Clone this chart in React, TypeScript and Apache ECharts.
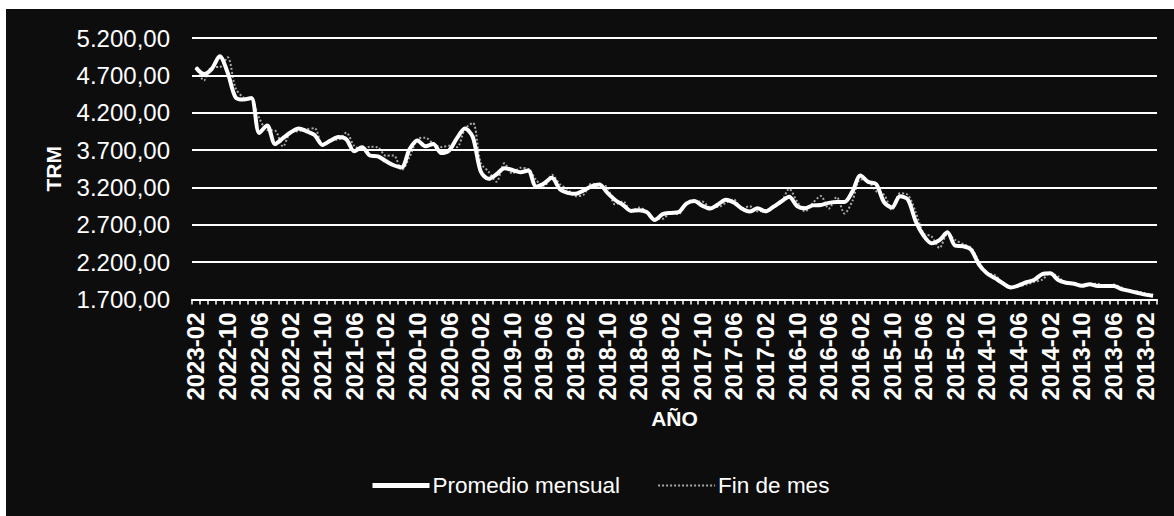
import React, { useEffect, useRef } from "react";
import * as echarts from "echarts";

// Monthly categories, newest first (2023-02 … 2013-01)
const CATEGORIES: string[] = [
  "2023-02", "2023-01",
  "2022-12", "2022-11", "2022-10", "2022-09", "2022-08", "2022-07", "2022-06", "2022-05", "2022-04", "2022-03", "2022-02", "2022-01",
  "2021-12", "2021-11", "2021-10", "2021-09", "2021-08", "2021-07", "2021-06", "2021-05", "2021-04", "2021-03", "2021-02", "2021-01",
  "2020-12", "2020-11", "2020-10", "2020-09", "2020-08", "2020-07", "2020-06", "2020-05", "2020-04", "2020-03", "2020-02", "2020-01",
  "2019-12", "2019-11", "2019-10", "2019-09", "2019-08", "2019-07", "2019-06", "2019-05", "2019-04", "2019-03", "2019-02", "2019-01",
  "2018-12", "2018-11", "2018-10", "2018-09", "2018-08", "2018-07", "2018-06", "2018-05", "2018-04", "2018-03", "2018-02", "2018-01",
  "2017-12", "2017-11", "2017-10", "2017-09", "2017-08", "2017-07", "2017-06", "2017-05", "2017-04", "2017-03", "2017-02", "2017-01",
  "2016-12", "2016-11", "2016-10", "2016-09", "2016-08", "2016-07", "2016-06", "2016-05", "2016-04", "2016-03", "2016-02", "2016-01",
  "2015-12", "2015-11", "2015-10", "2015-09", "2015-08", "2015-07", "2015-06", "2015-05", "2015-04", "2015-03", "2015-02", "2015-01",
  "2014-12", "2014-11", "2014-10", "2014-09", "2014-08", "2014-07", "2014-06", "2014-05", "2014-04", "2014-03", "2014-02", "2014-01",
  "2013-12", "2013-11", "2013-10", "2013-09", "2013-08", "2013-07", "2013-06", "2013-05", "2013-04", "2013-03", "2013-02", "2013-01",
];

const PROMEDIO_MENSUAL: number[] = [
  4803, 4717,
  4787, 4955, 4739, 4408, 4376, 4397, 3929, 4030, 3781, 3860, 3938, 3990,
  3951, 3901, 3769, 3826, 3874, 3846, 3683, 3737, 3627, 3616, 3553, 3497,
  3469, 3710, 3828, 3750, 3780, 3660, 3695, 3859, 3990, 3875, 3415, 3315,
  3376, 3457, 3434, 3403, 3426, 3212, 3253, 3329, 3178, 3128, 3114, 3159,
  3214, 3239, 3130, 3032, 2965, 2886, 2896, 2869, 2764, 2842, 2859, 2868,
  2984, 3017, 2956, 2918, 2973, 3036, 2999, 2918, 2877, 2920, 2880, 2941,
  3012, 3075, 2950, 2921, 2960, 2965, 2993, 3004, 3006, 3147, 3358, 3272,
  3244, 3000, 2932, 3082, 3038, 2746, 2553, 2453, 2494, 2600, 2420, 2413,
  2365, 2168, 2051, 1987, 1918, 1861, 1888, 1931, 1965, 2040, 2050, 1961,
  1925, 1910, 1884, 1905, 1880, 1880, 1880, 1840, 1815, 1790, 1765, 1750,
];

const FIN_DE_MES: number[] = [
  4812, 4631,
  4810, 4811, 4941, 4532, 4405, 4388, 4127, 3969, 3960, 3748, 3941, 3952,
  3981, 3992, 3771, 3834, 3839, 3933, 3757, 3715, 3745, 3737, 3625, 3627,
  3432, 3606, 3844, 3866, 3785, 3740, 3758, 3739, 3983, 4064, 3530, 3410,
  3277, 3522, 3385, 3462, 3449, 3300, 3206, 3370, 3244, 3175, 3083, 3102,
  3250, 3239, 3202, 2972, 3015, 2880, 2930, 2880, 2780, 2780, 2860, 2844,
  2984, 3006, 3012, 2937, 2937, 2995, 3038, 2920, 2948, 2880, 2896, 2936,
  3000, 3180, 3012, 2880, 2994, 3085, 2916, 3072, 2851, 3022, 3307, 3287,
  3149, 3101, 2898, 3122, 3101, 2867, 2585, 2544, 2389, 2577, 2496, 2441,
  2392, 2206, 2050, 2028, 1918, 1872, 1881, 1900, 1936, 1965, 2054, 2009,
  1915, 1920, 1880, 1900, 1910, 1875, 1900, 1860, 1815, 1805, 1785, 1760,
];

const Y_TICKS: number[] = [1700, 2200, 2700, 3200, 3700, 4200, 4700, 5200];

const SERIES_NAMES = ["Promedio mensual", "Fin de mes"];

const FONT = "'Liberation Sans', Arial, sans-serif";

function fmt(v: number): string {
  const s = String(Math.round(v));
  const withDots = s.replace(/\B(?=(\d{3})+(?!\d))/g, ".");
  return withDots + ",00";
}

export default function App() {
  const ref = useRef<HTMLDivElement>(null);

  useEffect(() => {
    if (!ref.current) return;
    const chart = echarts.init(ref.current, null, { renderer: "svg" });
    chart.setOption({
      animation: false,
      backgroundColor: "#0d0d0d",
      grid: { left: 186, right: 17, top: 29, bottom: 216.5, containLabel: false },
      legend: {
        data: [
          { name: SERIES_NAMES[0], lineStyle: { width: 5 } },
          { name: SERIES_NAMES[1], lineStyle: { width: 2 } },
        ],
        left: 364,
        top: 465,
        padding: 0,
        itemWidth: 57,
        itemHeight: 14,
        itemGap: 37,
        itemStyle: { opacity: 0 },
        textStyle: { color: "#ffffff", fontSize: 22.5, fontFamily: FONT, padding: [0, 0, 0, -2] },
      },
      xAxis: {
        type: "category",
        data: CATEGORIES,
        boundaryGap: true,
        name: "AÑO",
        nameLocation: "middle",
        nameGap: 106,
        nameTextStyle: { color: "#ffffff", fontSize: 21, fontWeight: "bold", fontFamily: FONT },
        axisLine: { show: true, lineStyle: { color: "#ffffff", width: 2 } },
        axisTick: { show: true, interval: 0, length: 5, lineStyle: { color: "#ffffff", width: 1.5 } },
        axisLabel: {
          interval: 3,
          rotate: 90,
          margin: 13,
          color: "#ffffff",
          fontSize: 24,
          fontWeight: "bold",
          fontFamily: FONT,
        },
        splitLine: { show: false },
      },
      yAxis: {
        type: "value",
        min: 1700,
        max: 5200,
        interval: 100,
        name: "TRM",
        nameLocation: "middle",
        nameGap: 128,
        nameTextStyle: { color: "#ffffff", fontSize: 21, fontWeight: "bold", fontFamily: FONT },
        axisLine: { show: false },
        axisTick: { show: false },
        splitLine: { show: false },
        axisLabel: {
          margin: 22,
          color: "#ffffff",
          fontSize: 24,
          fontFamily: FONT,
          formatter: (v: number) => (Y_TICKS.includes(Math.round(v)) ? fmt(v) : ""),
        },
      },
      series: [
        {
          name: "grid",
          type: "line",
          data: [],
          silent: true,
          markLine: {
            silent: true,
            symbol: ["none", "none"],
            label: { show: false },
            lineStyle: { color: "#ffffff", width: 2, type: "solid" },
            data: Y_TICKS.filter((v) => v > Y_TICKS[0]).map((v) => ({ yAxis: v })),
          },
        },
        {
          name: "Fin de mes",
          type: "line",
          data: FIN_DE_MES,
          smooth: 0.3,
          symbol: "none",
          showSymbol: false,
          lineStyle: { color: "#a8a8a8", width: 2, type: "dotted" },
          itemStyle: { color: "#a8a8a8" },
        },
        {
          name: "Promedio mensual",
          type: "line",
          data: PROMEDIO_MENSUAL,
          smooth: 0.3,
          symbol: "none",
          showSymbol: false,
          lineStyle: { color: "#ffffff", width: 4 },
          itemStyle: { color: "#ffffff" },
        },
      ],
    });
    return () => chart.dispose();
  }, []);

  return (
    <div
      ref={ref}
      style={{ position: "absolute", left: 6, top: 9, width: 1168, height: 507 }}
    />
  );
}
